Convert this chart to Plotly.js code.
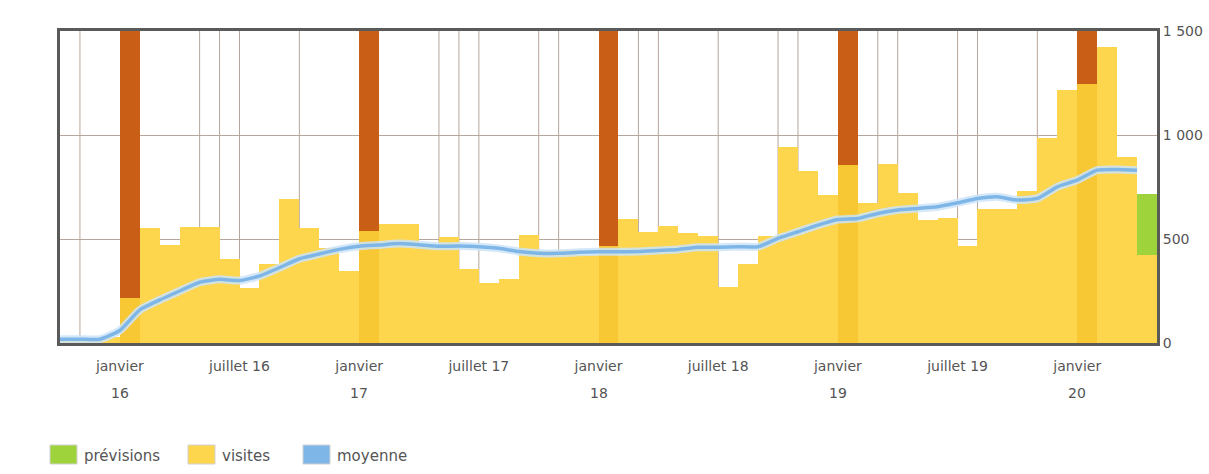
<!DOCTYPE html>
<html>
<head>
<meta charset="utf-8">
<script src="https://cdn.plot.ly/plotly-3.0.1.min.js"></script>
<style>
  html, body { margin: 0; padding: 0; background: #ffffff; }
  #chart { width: 1209px; height: 474px; }
</style>
</head>
<body>
<div id="chart"></div>
<script>
// ---- data ----
const months = [
  "2015-10","2015-11","2015-12",
  "2016-01","2016-02","2016-03","2016-04","2016-05","2016-06","2016-07","2016-08","2016-09","2016-10","2016-11","2016-12",
  "2017-01","2017-02","2017-03","2017-04","2017-05","2017-06","2017-07","2017-08","2017-09","2017-10","2017-11","2017-12",
  "2018-01","2018-02","2018-03","2018-04","2018-05","2018-06","2018-07","2018-08","2018-09","2018-10","2018-11","2018-12",
  "2019-01","2019-02","2019-03","2019-04","2019-05","2019-06","2019-07","2019-08","2019-09","2019-10","2019-11","2019-12",
  "2020-01","2020-02","2020-03","2020-04"
];
const visites = [
  25, 20, 30,
  216, 553, 470, 556, 556, 402, 263, 378, 691, 553, 455, 346,
  540, 572, 572, 463, 510, 354, 287, 306, 519, 442, 448, 423,
  468, 595, 535, 562, 530, 514, 268, 380, 514, 944, 829, 712,
  855, 675, 862, 723, 591, 599, 466, 644, 646, 731, 984, 1216,
  1243, 1421, 896, 423
];
const moyenne = [
  18, 18, 18,
  60, 159, 207, 250, 292, 306, 300, 322, 362, 405, 428, 450,
  465, 471, 478, 472, 465, 466, 463, 455, 440, 432, 431, 436,
  439, 439, 440, 445, 450, 460, 460, 463, 463, 503, 535, 567,
  594, 599, 623, 639, 647, 655, 674, 695, 703, 687, 695, 751,
  783, 831, 834, 831
];
const previsionMonths = ["2020-04"];
const previsions = [715];
const yearMarkMonths = ["2016-01","2017-01","2018-01","2019-01","2020-01"];
const eventMonths = [
  "2015-11","2016-05","2016-06","2016-07","2016-10",
  "2017-05","2017-06","2017-07","2017-10","2017-11",
  "2018-03","2018-04","2018-07","2018-10","2018-11",
  "2019-03","2019-04","2019-07","2019-08","2019-11"
];
const tickMonths = ["2016-01","2016-07","2017-01","2017-07","2018-01","2018-07","2019-01","2019-07","2020-01"];
const tickLabels = ["janvier","juillet 16","janvier","juillet 17","janvier","juillet 18","janvier","juillet 19","janvier"];
const yearMonths = ["2016-01","2017-01","2018-01","2019-01","2020-01"];
const yearLabels = ["16","17","18","19","20"];
const legendNames = ["prévisions","visites","moyenne"];

// ---- styles ----
const YMAX = 1500;
const C_YELLOW = "#FDD64E", C_YELLOW_JAN = "#F7C734", C_DARK = "#C95E17",
      C_GREEN = "#9ED33B", C_BLUE = "#7FB6E8", C_GRID = "#B7A69C", C_FRAME = "#5A5A5A",
      C_TEXT = "#555555";
const FONT = "DejaVu Sans";

const idx = m => months.indexOf(m);
const center = m => idx(m) + 0.5;

const traces = [];
// forecast (green) behind visits
traces.push({
  type: "bar", x: previsionMonths.map(center), y: previsions, width: 1,
  marker: { color: C_GREEN, line: { width: 0 } }, name: legendNames[0], hoverinfo: "y"
});
// visits
traces.push({
  type: "bar", x: months.map(center), y: visites, width: 1,
  marker: { color: months.map(m => m.endsWith("-01") ? C_YELLOW_JAN : C_YELLOW), line: { width: 0 } },
  name: legendNames[1], hoverinfo: "y"
});
// year markers (dark orange) from visits up to the top
const ymBase = yearMarkMonths.map(m => visites[idx(m)]);
traces.push({
  type: "bar", x: yearMarkMonths.map(center), base: ymBase, y: ymBase.map(b => YMAX - b), width: 1,
  marker: { color: C_DARK, line: { width: 0 } }, hoverinfo: "skip", showlegend: false
});
// moving average: halo + core
const avgX = months.map(idx);
traces.push({
  type: "scatter", mode: "lines", x: avgX, y: moyenne,
  line: { color: "rgba(205,228,248,0.85)", width: 8, shape: "spline", smoothing: 0.5 },
  hoverinfo: "skip", showlegend: false
});
traces.push({
  type: "scatter", mode: "lines", x: avgX, y: moyenne,
  line: { color: C_BLUE, width: 3.5, shape: "spline", smoothing: 0.5 },
  name: legendNames[2], hoverinfo: "y"
});

// ---- layout ----
const L = 60, R = 1157, T = 31, B = 343;
const W = 1209, H = 474;
const px2x = px => (px - L) / (R - L);
const px2y = py => (B - py) / (B - T);

const shapes = eventMonths.map(m => ({
  type: "line", xref: "x", yref: "paper", x0: idx(m), x1: idx(m), y0: 0, y1: 1,
  layer: "below", line: { color: C_GRID, width: 1 }
}));

const annotations = yearMonths.map((m, i) => ({
  xref: "x", yref: "paper", x: idx(m), y: px2y(393), text: yearLabels[i],
  showarrow: false, xanchor: "center", yanchor: "middle",
  font: { family: FONT, size: 14, color: C_TEXT }
}));

// manual legend
const legendColors = [C_GREEN, C_YELLOW, C_BLUE];
const legendBoxX = [50, 188, 303];
legendNames.forEach((n, i) => {
  shapes.push({
    type: "rect", xref: "paper", yref: "paper",
    x0: px2x(legendBoxX[i]), x1: px2x(legendBoxX[i] + 27),
    y0: px2y(464), y1: px2y(445),
    fillcolor: legendColors[i], line: { color: "#D2D2D2", width: 1 }
  });
  annotations.push({
    xref: "paper", yref: "paper", x: px2x(legendBoxX[i] + 32), y: px2y(456),
    text: n, showarrow: false, xanchor: "left", yanchor: "middle",
    font: { family: FONT, size: 15, color: C_TEXT }
  });
});

const layout = {
  width: W, height: H,
  margin: { l: L, r: W - R, t: T, b: H - B, pad: 0 },
  paper_bgcolor: "#ffffff", plot_bgcolor: "#ffffff",
  separators: ", ",
  barmode: "overlay", bargap: 0,
  showlegend: false,
  font: { family: FONT, size: 14, color: C_TEXT },
  xaxis: {
    type: "linear", range: [0, months.length], fixedrange: true,
    tickvals: tickMonths.map(idx), ticktext: tickLabels,
    showgrid: false, zeroline: false, ticks: "",
    showline: true, mirror: true, linecolor: C_FRAME, linewidth: 3,
    ticklabelstandoff: 8,
    tickfont: { family: FONT, size: 14, color: C_TEXT }
  },
  yaxis: {
    side: "right", range: [0, YMAX], fixedrange: true,
    tickvals: [0, 500, 1000, 1500], tickformat: ",d",
    showgrid: true, gridcolor: C_GRID, gridwidth: 1, zeroline: false, ticks: "",
    showline: true, mirror: true, linecolor: C_FRAME, linewidth: 3,
    ticklabelstandoff: 0,
    tickfont: { family: FONT, size: 14, color: C_TEXT }
  },
  shapes: shapes,
  annotations: annotations
};

Plotly.newPlot("chart", traces, layout, { displayModeBar: false, staticPlot: true });
</script>
</body>
</html>
